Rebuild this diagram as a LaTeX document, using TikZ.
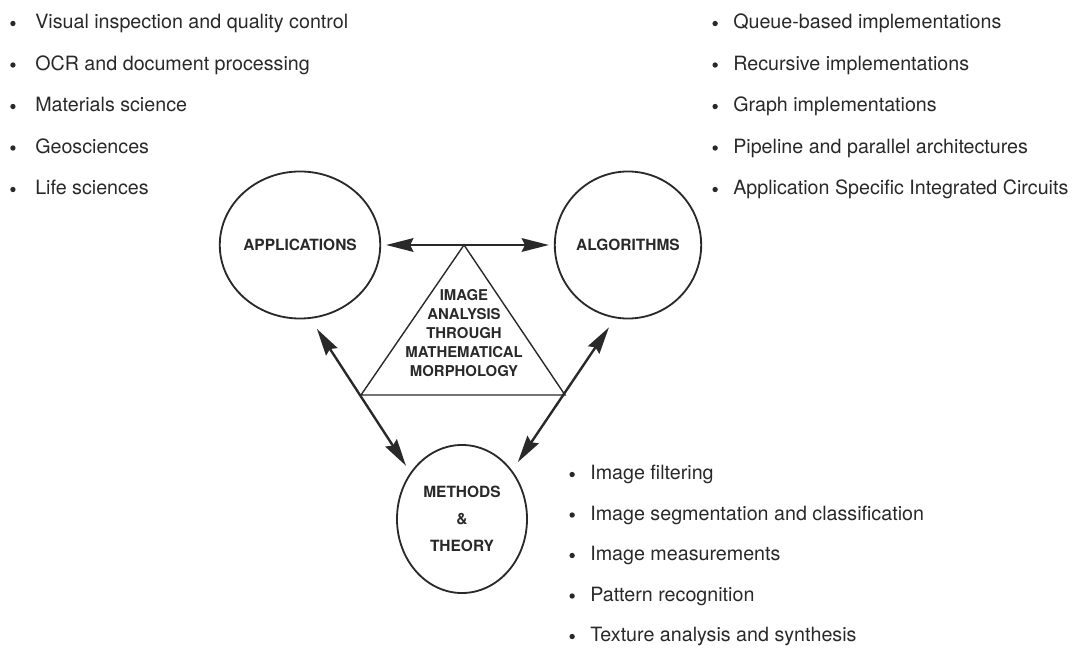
\documentclass[tikz,border=0pt]{standalone}
\usepackage{fontspec}
\setmainfont{TeX Gyre Heros}
\usetikzlibrary{arrows.meta,shapes.geometric}
\definecolor{ink}{gray}{0.16}
\newcommand{\bul}[1][11pt]{\llap{\raisebox{2pt}{\tikz\fill[ink] (0,0) circle (1.9pt);}\hspace{#1}}}
\tikzset{
  topic/.style={draw=ink, ellipse, line width=1.3pt, minimum width=3.275cm, minimum height=3.675cm,
    inner sep=0pt, align=center, text=ink, font=\fontsize{11}{19}\selectfont\bfseries},
  entry/.style={anchor=base west, inner sep=0pt, text=ink, font=\fontsize{14}{16}\selectfont},
  link/.style={draw=ink, line width=1.7pt,
    {Stealth[length=0.68cm,width=0.34cm,inset=0.08cm]}-{Stealth[length=0.68cm,width=0.34cm,inset=0.08cm]}}
}
\begin{document}
\begin{tikzpicture}[x=0.025cm,y=0.025cm]
\useasboundingbox (0,0) rectangle (1074,-648);
% the three topics
\node [topic] (APP) at (300,-245) {APPLICATIONS};
\node [topic] (ALG) at (628,-245) {ALGORITHMS};
\node [topic, minimum width=3.25cm, minimum height=3.7cm] (MT) at (462,-519) {METHODS\\\&\\THEORY};
% central triangle
\coordinate (apex) at (464,-245);
\coordinate (bl) at (361,-395);
\coordinate (br) at (565,-395);
\draw [ink, line width=1pt] (apex) -- (bl) -- (br) -- cycle;
\node [align=center, text=ink, font=\fontsize{10.6}{13.5}\selectfont\bfseries] (core) at (464,-333)
  {IMAGE\\ANALYSIS\\THROUGH\\MATHEMATICAL\\MORPHOLOGY};
% links
\draw [link, shorten <=0.125cm, shorten >=0.125cm] (APP) -- (ALG);
\draw [link, shorten <=0.3cm, shorten >=0.2cm] (APP.-82) -- (MT.138);
\draw [link, shorten <=0.275cm, shorten >=0.25cm] (ALG.-100) -- (MT.44);
% applications
\node [entry] (appl1) at (35,-29) {\bul[14pt]Visual inspection and quality control};
\node [entry] (appl2) at (35,-70.5) {\bul[14pt]OCR and document processing};
\node [entry] (appl3) at (35,-112) {\bul[14pt]Materials science};
\node [entry] (appl4) at (35,-153.5) {\bul[14pt]Geosciences};
\node [entry] (appl5) at (35,-195) {\bul[14pt]Life sciences};
% algorithms
\node [entry] (algo1) at (733,-29) {\bul Queue-based implementations};
\node [entry] (algo2) at (733,-70.5) {\bul Recursive implementations};
\node [entry] (algo3) at (733,-112) {\bul Graph implementations};
\node [entry] (algo4) at (733,-153.5) {\bul Pipeline and parallel architectures};
\node [entry] (algo5) at (733,-195) {\bul Application Specific Integrated Circuits};
% methods
\node [entry] (meth1) at (590,-480) {\bul Image filtering};
\node [entry] (meth2) at (590,-520.5) {\bul Image segmentation and classification};
\node [entry] (meth3) at (590,-561) {\bul Image measurements};
\node [entry] (meth4) at (590,-601.5) {\bul Pattern recognition};
\node [entry] (meth5) at (590,-642) {\bul Texture analysis and synthesis};
\end{tikzpicture}
\end{document}
